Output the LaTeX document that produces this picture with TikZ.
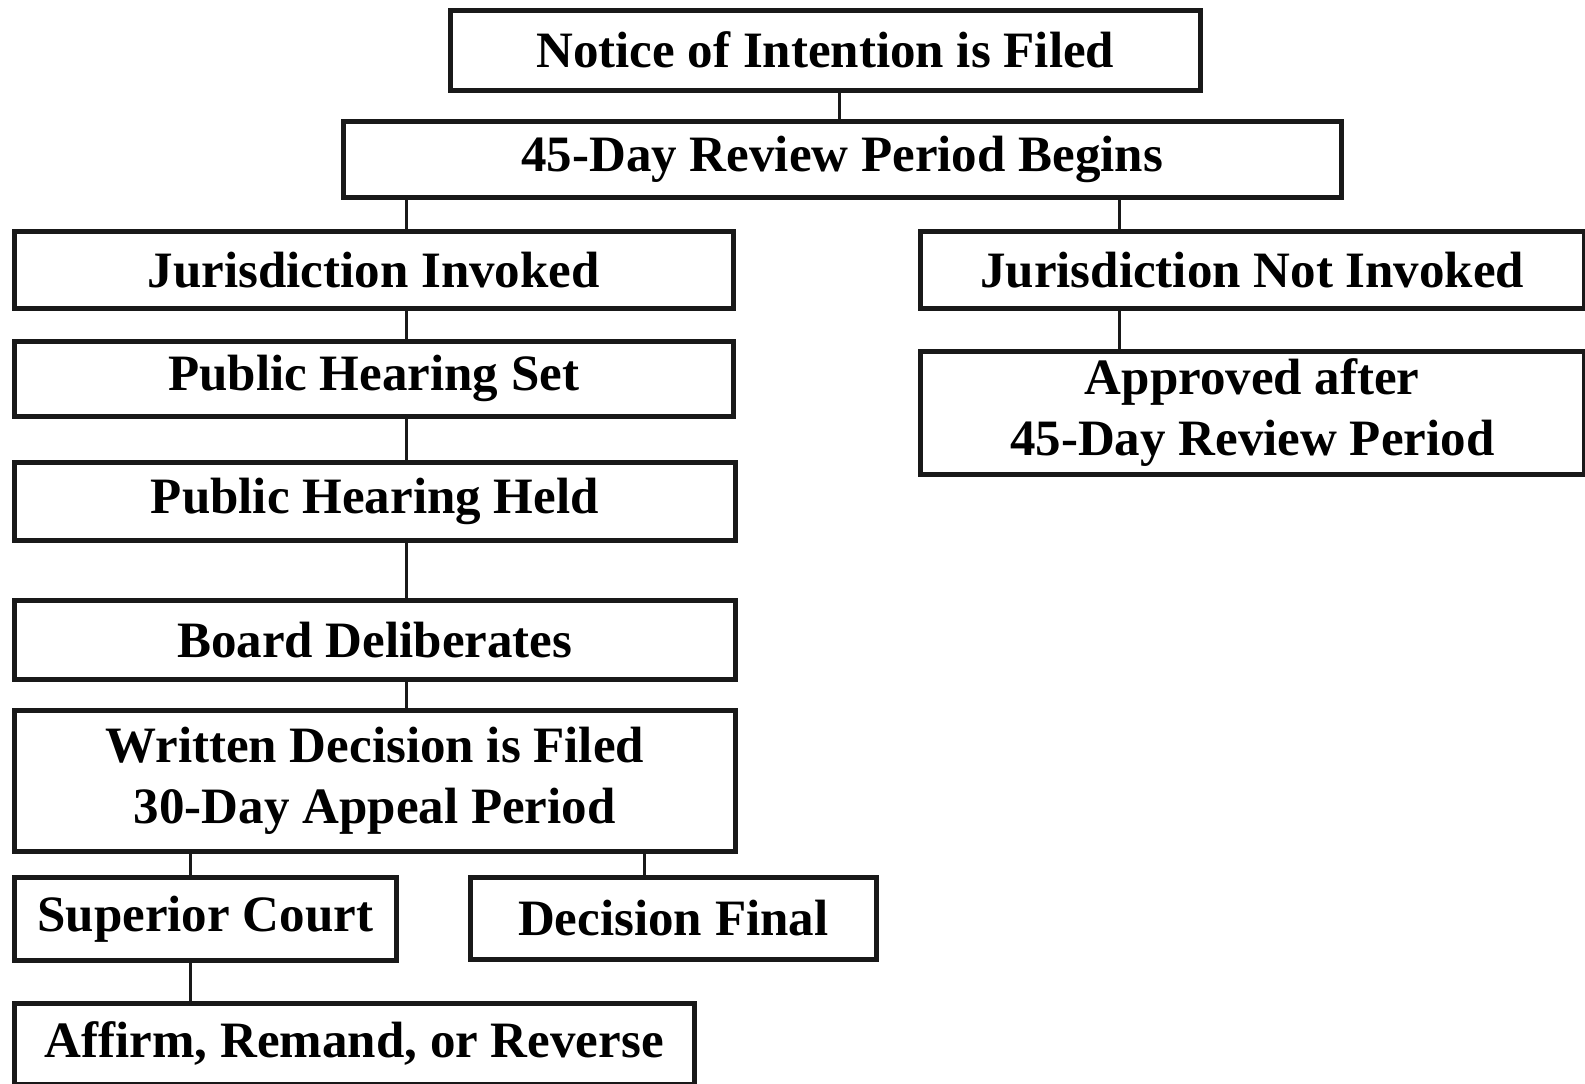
\documentclass[tikz,border=0pt]{standalone}
\usepackage{fontspec}
\setmainfont{Liberation Serif}
\begin{document}
\begin{tikzpicture}[x=1pt,y=-1pt,
  box/.style={draw=black!90, line width=4.5pt, inner sep=0pt, anchor=north west, align=center,
    font=\fontsize{51}{61}\selectfont\bfseries, fill=white},
  link/.style={draw=black!90, line width=3pt}]
\useasboundingbox (0,0) rectangle (1585,1084);
\fill[white] (0,0) rectangle (1585,1084);
\node[box, minimum width=750, minimum height=80] (n1) at (448,8) {Notice of Intention is Filed};
\node[box, minimum width=998, minimum height=76] (n2) at (341,119) {45-Day Review Period Begins};
\node[box, minimum width=719, minimum height=77] (ji) at (12,229) {Jurisdiction Invoked};
\node[box, minimum width=664, minimum height=77] (jn) at (918,229) {Jurisdiction Not Invoked};
\node[box, minimum width=719, minimum height=75] (phs) at (12,339) {Public Hearing Set};
\node[box, minimum width=664, minimum height=123] (ap) at (918,349) {Approved after\\45-Day Review Period};
\node[box, minimum width=721, minimum height=78] (phh) at (12,460) {Public Hearing Held};
\node[box, minimum width=721, minimum height=79] (bd) at (12,598) {Board Deliberates};
\node[box, minimum width=721, minimum height=141] (wd) at (12,708) {Written Decision is Filed\\30-Day Appeal Period};
\node[box, minimum width=382, minimum height=83] (sc) at (12,875) {Superior Court};
\node[box, minimum width=406, minimum height=82] (df) at (468,875) {Decision Final};
\node[box, minimum width=680, minimum height=81] (af) at (12,1001) {Affirm, Remand, or Reverse};
\draw[link] (n1.south -| 839,0) -- (n2.north -| 839,0);
\draw[link] (n2.south -| 406,0) -- (ji.north -| 406,0);
\draw[link] (n2.south -| 1119,0) -- (jn.north -| 1119,0);
\draw[link] (ji.south -| 406,0) -- (phs.north -| 406,0);
\draw[link] (jn.south -| 1119,0) -- (ap.north -| 1119,0);
\draw[link] (phs.south -| 406,0) -- (phh.north -| 406,0);
\draw[link] (phh.south -| 406,0) -- (bd.north -| 406,0);
\draw[link] (bd.south -| 406,0) -- (wd.north -| 406,0);
\draw[link] (wd.south -| 190,0) -- (sc.north -| 190,0);
\draw[link] (wd.south -| 644,0) -- (df.north -| 644,0);
\draw[link] (sc.south -| 190,0) -- (af.north -| 190,0);
\end{tikzpicture}
\end{document}
